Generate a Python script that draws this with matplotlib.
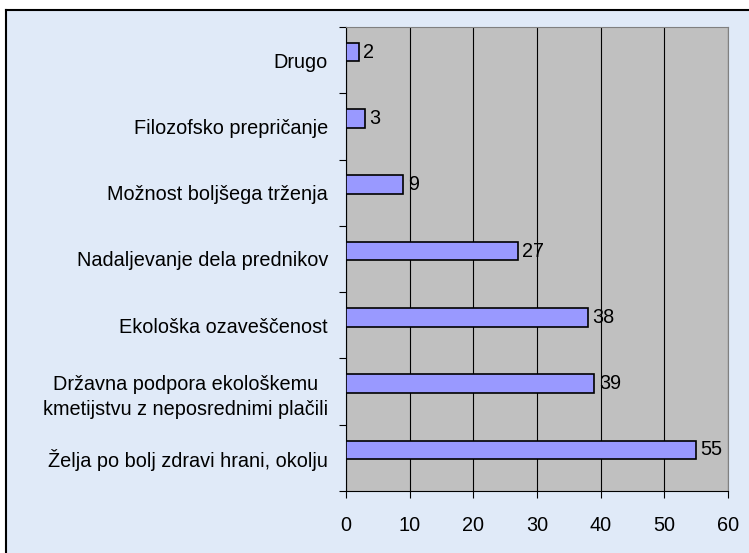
import numpy as np
import matplotlib.pyplot as plt
from matplotlib.patches import Rectangle

plt.rcParams['font.family'] = ['Liberation Sans', 'DejaVu Sans']

categories = ['Želja po bolj zdravi hrani, okolju',
              'Državna podpora ekološkemu\nkmetijstvu z neposrednimi plačili',
              'Ekološka ozaveščenost',
              'Nadaljevanje dela prednikov',
              'Možnost boljšega trženja',
              'Filozofsko prepričanje',
              'Drugo']
values = [55, 39, 38, 27, 9, 3, 2]
xticks = [0, 10, 20, 30, 40, 50, 60]

fs = 14.3
W, H = 749, 553
fig = plt.figure(figsize=(W / 100, H / 100), dpi=100)
fig.patch.set_facecolor('white')

# chart area background with border on left/top
fig.patches.append(Rectangle((6 / W, 0), 1, 1 - 10 / H, transform=fig.transFigure,
                             facecolor='#e0eaf8', edgecolor='none', zorder=-10))
fig.lines.append(plt.Line2D([6 / W, 6 / W], [0, 1 - 10 / H], transform=fig.transFigure,
                            color='black', lw=1.5, zorder=-9))
fig.lines.append(plt.Line2D([6 / W, 1], [1 - 10 / H, 1 - 10 / H], transform=fig.transFigure,
                            color='black', lw=1.5, zorder=-9))

ax = fig.add_axes([346 / W, 62 / H, (728 - 346) / W, (491 - 27) / H])
ax.set_facecolor('#c0c0c0')

pos = np.arange(len(categories))
ax.barh(pos + 0.12, values, height=0.28, color='#9999ff', edgecolor='black',
        linewidth=1.2, zorder=3)
for p, v in zip(pos, values):
    ax.text(v + 0.7, p + 0.12, str(v), va='center', ha='left', fontsize=fs, zorder=4)

ax.set_xlim(0, 60)
ax.set_ylim(-0.5, len(categories) - 0.5)
ax.set_xticks(xticks)
ax.set_xticklabels([str(t) for t in xticks], fontsize=fs)
ax.xaxis.grid(True, color='black', lw=0.8, zorder=1)
ax.set_axisbelow(True)

ax.set_yticks(np.arange(-0.5, len(categories), 1.0))
ax.set_yticklabels([])
ax.set_yticks(pos, minor=True)
ax.set_yticklabels(categories, minor=True, fontsize=fs, multialignment='center',
                   linespacing=1.45)
ax.tick_params(axis='y', which='minor', length=0, pad=13)
ax.tick_params(axis='y', which='major', length=5, direction='out')
ax.tick_params(axis='x', length=5, direction='out', pad=13)

for s in ['top', 'right']:
    ax.spines[s].set_color('#808080')
for s in ['left', 'bottom']:
    ax.spines[s].set_color('black')

fig.savefig('out.png', dpi=100, facecolor=fig.get_facecolor())
